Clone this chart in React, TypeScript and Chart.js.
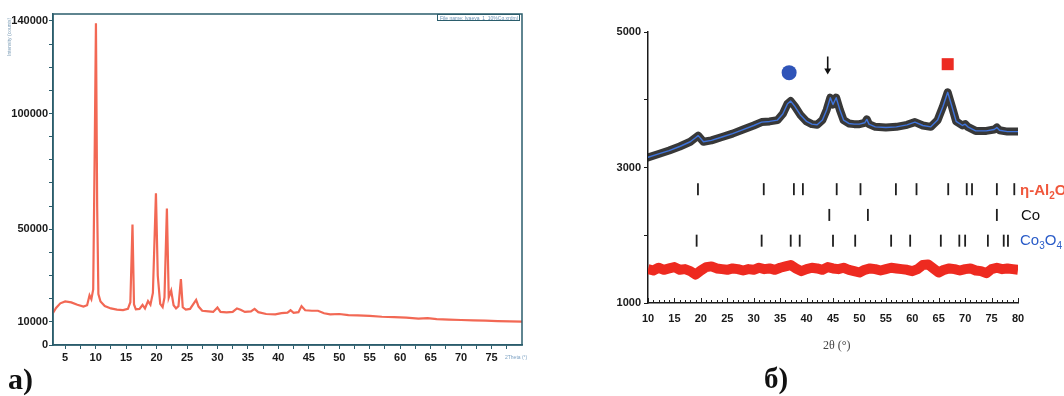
import React, { useEffect, useRef } from "react";
import { Chart, registerables } from "chart.js";
Chart.register(...registerables);

// ---------------- Panel а): XRD pattern of the support ----------------
const aTwoTheta = [
  3.0, 3.5, 4.2, 5.0, 6.0, 7.0, 8.0, 8.6, 9.0, 9.3, 9.6, 9.85, 10.05, 10.25, 10.45, 10.8,
  11.5, 12.5, 13.5, 14.5, 15.3, 15.7, 16.05, 16.3, 16.6, 17.2, 17.7, 18.1, 18.6, 19.0,
  19.4, 19.9, 20.2, 20.6, 21.0, 21.3, 21.7, 22.0, 22.4, 22.8, 23.2, 23.6, 24.0, 24.3,
  24.8, 25.5, 26.5, 26.9, 27.5, 28.5, 29.3, 30.0, 30.5, 31.5, 32.5, 33.2, 33.8, 34.5,
  35.5, 36.1, 36.7, 38.0, 39.5, 40.5, 41.5, 42.0, 42.5, 43.3, 43.8, 44.4, 45.5, 46.5,
  47.5, 48.5, 50.0, 51.5, 53.0, 55.0, 57.0, 59.0, 61.0, 63.0, 64.5, 66.0, 68.0, 70.0,
  72.0, 74.0, 76.0, 78.0, 80.0,
];
const aIntensity = [
  13800, 16000, 18000, 18800, 18400, 17400, 16600, 17200, 21500, 19800, 24000, 85000, 139000, 60000, 22000, 18800,
  16800, 15800, 15300, 15100, 15600, 18500, 52000, 17500, 15400, 15600, 17300, 15800, 19000, 17400,
  22500, 65500, 30000, 17800, 16400, 20500, 59000, 20500, 23500, 17200, 15800, 16800, 28500, 16300,
  15300, 15600, 19500, 16600, 14800, 14500, 14300, 16200, 14300, 14100, 14300, 15800, 15200, 14300,
  14500, 15600, 14200, 13400, 13200, 13800, 14000, 15000, 13900, 14200, 16800, 15000, 14800, 14800,
  13700, 13200, 13400, 12900, 12800, 12600, 12200, 12000, 11800, 11400, 11600, 11200, 11000, 10800,
  10600, 10500, 10300, 10200, 10100,
];
const aYTicks = [0, 10000, 20000, 30000, 40000, 50000, 60000, 70000, 80000, 90000, 100000, 110000, 120000, 130000, 140000];
const aYLabelled = [0, 10000, 50000, 100000, 140000];
const aXTicks = [5, 7.5, 10, 12.5, 15, 17.5, 20, 22.5, 25, 27.5, 30, 32.5, 35, 37.5, 40, 42.5, 45, 47.5, 50, 52.5, 55, 57.5, 60, 62.5, 65, 67.5, 70, 72.5, 75, 77.5];
const aXLabelled = [5, 10, 15, 20, 25, 30, 35, 40, 45, 50, 55, 60, 65, 70, 75];

// ---------------- Panel б): refined pattern of the Co catalyst ----------------
const bFitTwoTheta = [
  10, 12, 14, 16, 18, 19, 19.5, 20.5, 22, 24, 26, 28, 30, 31.5, 33, 34.5, 35.5, 36.4, 37.0,
  37.8, 38.8, 40, 41, 42, 43, 43.8, 44.5, 45.0, 45.6, 46.3, 47, 48, 49, 50, 51, 51.4, 51.8,
  53, 55, 57, 59, 60.5, 62, 63.5, 64.8, 65.8, 66.7, 67.5, 68.3, 69.5, 70.0, 70.5, 72, 74,
  75.5, 76.0, 76.5, 78, 80,
];
const bFitIntensity = [
  3150, 3200, 3250, 3310, 3380, 3440, 3470, 3380, 3400, 3450, 3500, 3560, 3620, 3670, 3680, 3700, 3790, 3940, 3980,
  3900, 3780, 3680, 3640, 3630, 3700, 3850, 4030, 3930, 4030, 3850, 3700, 3650, 3640, 3640, 3660, 3710, 3640,
  3600, 3590, 3600, 3630, 3670, 3620, 3600, 3700, 3900, 4110, 3900, 3680, 3620, 3640, 3600, 3540, 3540,
  3560, 3590, 3550, 3530, 3530,
];
const bDiffTwoTheta = [
  10, 11, 12, 13, 14, 15, 16, 17, 18, 19, 20, 21, 22, 23, 24, 25, 26, 27, 28, 29, 30, 31, 32, 33, 34, 35,
  36, 37, 38, 39, 40, 41, 42, 43, 44, 45, 46, 47, 48, 49, 50, 51, 52, 53, 54, 55, 56, 57, 58, 59, 60,
  61, 62, 63, 64, 65, 66, 67, 68, 69, 70, 71, 72, 73, 74, 75, 76, 77, 78, 79, 80,
];
const bDiffIntensity = [
  1500, 1480, 1520, 1490, 1510, 1530, 1490, 1500, 1470, 1420, 1480, 1530, 1540, 1510, 1500, 1490, 1510, 1500, 1480, 1500, 1490, 1520, 1500, 1510, 1490, 1520,
  1540, 1560, 1510, 1470, 1500, 1520, 1510, 1490, 1530, 1510, 1500, 1520, 1490, 1470, 1450, 1490, 1510, 1500, 1480, 1500, 1520, 1510, 1500, 1490, 1470,
  1500, 1560, 1570, 1510, 1450, 1490, 1510, 1500, 1480, 1500, 1510, 1480, 1470, 1440, 1500, 1520, 1500, 1510, 1500, 1490,
];
const bEtaAl2O3 = [19.45, 31.9, 37.6, 39.3, 45.7, 50.2, 56.9, 60.8, 66.8, 70.3, 71.3, 76.0, 79.3];
const bCo = [44.3, 51.6, 76.0];
const bCo3O4 = [19.2, 31.5, 37.0, 38.7, 45.0, 49.2, 56.0, 59.6, 65.4, 68.9, 70.0, 74.3, 77.3, 78.1];
const bYTicks = [1000, 2000, 3000, 4000, 5000];
const bYLabelled = [1000, 3000, 5000];
const bXMajor = [10, 15, 20, 25, 30, 35, 40, 45, 50, 55, 60, 65, 70, 75, 80];

// levels of annotation rows (data units of panel б)
const ETA_ROW = 2680;
const CO_ROW = 2300;
const CO3O4_ROW = 1920;
const CIRCLE_MARK = { x: 36.7, y: 4400 };
const SQUARE_MARK = { x: 66.7, y: 4525 };
const ARROW_MARK = { x: 44.0, yTop: 4640, yTip: 4390 };

const TEAL = "#2b5d6c";
const SANS = "'Liberation Sans', Arial, sans-serif";

const boxPlugin = {
  id: "boxPlugin",
  afterDraw(chart: any) {
    const { ctx, chartArea } = chart;
    ctx.save();
    ctx.strokeStyle = TEAL;
    ctx.lineWidth = 1.5;
    ctx.strokeRect(chartArea.left, chartArea.top, chartArea.right - chartArea.left, chartArea.bottom - chartArea.top);
    ctx.restore();
  },
};

const minorTickPlugin = {
  id: "minorTickPlugin",
  afterDraw(chart: any) {
    const { ctx, chartArea } = chart;
    const xs = chart.scales.x;
    ctx.save();
    ctx.strokeStyle = "#222";
    ctx.lineWidth = 1;
    for (let v = 10; v <= 80; v += 1) {
      const px = Math.round(xs.getPixelForValue(v)) + 0.5;
      const len = v % 5 === 0 ? 5 : 3;
      ctx.beginPath();
      ctx.moveTo(px, chartArea.bottom);
      ctx.lineTo(px, chartArea.bottom - len);
      ctx.stroke();
    }
    ctx.restore();
  },
};

function PanelA() {
  const ref = useRef<HTMLCanvasElement>(null);
  useEffect(() => {
    const chart = new Chart(ref.current!, {
      type: "scatter",
      data: {
        datasets: [
          {
            data: aTwoTheta.map((x, i) => ({ x, y: aIntensity[i] })),
            showLine: true,
            borderColor: "rgb(242,104,84)",
            borderWidth: 2.2,
            pointRadius: 0,
          },
        ],
      },
      options: {
        animation: false,
        responsive: false,
        layout: { padding: { top: 14, right: 18, left: 0, bottom: 0 } },
        plugins: { legend: { display: false }, tooltip: { enabled: false } },
        scales: {
          x: {
            type: "linear",
            min: 3,
            max: 80,
            afterBuildTicks: (s: any) => {
              s.ticks = aXTicks.map((v) => ({ value: v }));
            },
            afterFit: (s: any) => {
              s.height = 30;
            },
            grid: { drawOnChartArea: false, tickLength: 4, color: TEAL },
            border: { color: TEAL, width: 1.5 },
            ticks: {
              autoSkip: false,
              maxRotation: 0,
              padding: 2,
              color: "#1a1a1a",
              font: { family: SANS, size: 11, weight: "bold" },
              callback: (v: any) => (aXLabelled.includes(Number(v)) ? String(v) : ""),
            },
          },
          y: {
            type: "linear",
            min: 0,
            max: 143000,
            afterBuildTicks: (s: any) => {
              s.ticks = aYTicks.map((v) => ({ value: v }));
            },
            afterFit: (s: any) => {
              s.width = 53;
            },
            grid: { drawOnChartArea: false, tickLength: 4, color: TEAL },
            border: { color: TEAL, width: 1.5 },
            ticks: {
              autoSkip: false,
              padding: 1,
              color: "#1a1a1a",
              font: { family: SANS, size: 11, weight: "bold" },
              callback: (v: any) => (aYLabelled.includes(Number(v)) ? String(v) : ""),
            },
          },
        },
      },
      plugins: [boxPlugin],
    });
    return () => chart.destroy();
  }, []);
  return <canvas ref={ref} width={540} height={375} style={{ position: "absolute", left: 0, top: 0, width: 540, height: 375 }} />;
}

function PanelB() {
  const ref = useRef<HTMLCanvasElement>(null);
  useEffect(() => {
    const fit = bFitTwoTheta.map((x, i) => ({ x, y: bFitIntensity[i] }));
    const bars = (arr: number[], level: number) => arr.map((x) => ({ x, y: level }));
    const barStyle = {
      showLine: false,
      pointStyle: "line" as const,
      rotation: 90,
      pointRadius: 6,
      borderColor: "#1f1f1f",
      borderWidth: 1.8,
    };
    const chart = new Chart(ref.current!, {
      type: "scatter",
      data: {
        datasets: [
          {
            data: fit,
            showLine: true,
            borderColor: "#3f74dc",
            borderWidth: 1.4,
            borderJoinStyle: "round",
            pointRadius: 0,
            order: 1,
          },
          {
            data: fit,
            showLine: true,
            borderColor: "rgba(28,28,28,0.88)",
            borderWidth: 8,
            borderJoinStyle: "round",
            borderCapStyle: "round",
            pointRadius: 0,
            order: 3,
          },
          {
            data: bDiffTwoTheta.map((x, i) => ({ x, y: bDiffIntensity[i] })),
            showLine: true,
            borderColor: "rgb(238,42,32)",
            borderWidth: 10,
            borderJoinStyle: "round",
            pointRadius: 0,
            order: 2,
          },
          { data: bars(bEtaAl2O3, ETA_ROW), ...barStyle, order: 1 },
          { data: bars(bCo, CO_ROW), ...barStyle, order: 1 },
          { data: bars(bCo3O4, CO3O4_ROW), ...barStyle, order: 1 },
          {
            data: [CIRCLE_MARK],
            pointStyle: "circle",
            pointRadius: 7.5,
            backgroundColor: "#2f54b8",
            borderColor: "#2f54b8",
            borderWidth: 0,
            order: 0,
          },
          {
            data: [SQUARE_MARK],
            pointStyle: "rect",
            pointRadius: 8.5,
            backgroundColor: "#ec2b22",
            borderColor: "#ec2b22",
            borderWidth: 0,
            order: 0,
          },
          {
            data: [
              { x: ARROW_MARK.x, y: ARROW_MARK.yTop },
              { x: ARROW_MARK.x, y: ARROW_MARK.yTip + 60 },
            ],
            showLine: true,
            borderColor: "#111",
            borderWidth: 1.6,
            pointRadius: 0,
            order: 0,
          },
          {
            data: [{ x: ARROW_MARK.x, y: ARROW_MARK.yTip + 40 }],
            pointStyle: "triangle",
            rotation: 180,
            pointRadius: 4,
            backgroundColor: "#111",
            borderColor: "#111",
            borderWidth: 0,
            order: 0,
          },
        ],
      },
      options: {
        animation: false,
        responsive: false,
        layout: { padding: { top: 32, right: 46, left: 0, bottom: 0 } },
        plugins: { legend: { display: false }, tooltip: { enabled: false } },
        scales: {
          x: {
            type: "linear",
            min: 10,
            max: 80,
            afterBuildTicks: (s: any) => {
              s.ticks = bXMajor.map((v) => ({ value: v }));
            },
            afterFit: (s: any) => {
              s.height = 93;
            },
            grid: { drawOnChartArea: false, drawTicks: false },
            border: { color: "#1a1a1a", width: 1.5 },
            ticks: {
              autoSkip: false,
              maxRotation: 0,
              padding: 9,
              color: "#1a1a1a",
              font: { family: SANS, size: 11, weight: "bold" },
            },
          },
          y: {
            type: "linear",
            min: 1000,
            max: 5000,
            afterBuildTicks: (s: any) => {
              s.ticks = bYTicks.map((v) => ({ value: v }));
            },
            afterFit: (s: any) => {
              s.width = 58;
            },
            grid: { drawOnChartArea: false, tickLength: 4, color: "#1a1a1a" },
            border: { color: "#1a1a1a", width: 1.5 },
            ticks: {
              autoSkip: false,
              padding: 3,
              color: "#1a1a1a",
              font: { family: SANS, size: 11, weight: "bold" },
              callback: (v: any) => (bYLabelled.includes(Number(v)) ? String(v) : ""),
            },
          },
        },
      },
      plugins: [minorTickPlugin],
    });
    return () => chart.destroy();
  }, []);
  return <canvas ref={ref} width={474} height={396} style={{ position: "absolute", left: 590, top: 0, width: 474, height: 396 }} />;
}

const abs = (s: React.CSSProperties): React.CSSProperties => ({ position: "absolute", whiteSpace: "nowrap", ...s });

export default function App() {
  return (
    <div style={{ position: "fixed", left: 0, top: 0, width: 1064, height: 396, overflow: "hidden", background: "#fff" }}>
      <PanelA />
      <PanelB />
      {/* tiny labels of panel а */}
      <div style={abs({ left: 6, top: 56, transform: "rotate(-90deg)", transformOrigin: "left top", fontFamily: SANS, fontSize: 5, color: "#7f9fb8" })}>
        Intensity (counts)
      </div>
      <div
        style={abs({
          left: 437,
          top: 14,
          width: 83,
          height: 7,
          border: `1px solid ${TEAL}`,
          fontFamily: SANS,
          fontSize: 5,
          lineHeight: "7px",
          color: "#6a92b4",
          paddingLeft: 2,
          boxSizing: "border-box",
          overflow: "hidden",
        })}
      >
        File name: Ivaeva_1_10%Co.xrdml
      </div>
      <div style={abs({ left: 505, top: 354, fontFamily: SANS, fontSize: 5, color: "#7fa3c4" })}>2Theta (°)</div>
      <div style={abs({ left: 8, top: 362, fontFamily: "'Liberation Serif', serif", fontSize: 30, fontWeight: "bold", color: "#111" })}>
        а)
      </div>
      {/* panel б labels */}
      <div style={abs({ left: 823, top: 338, fontFamily: "'Liberation Serif', serif", fontSize: 12, color: "#444" })}>2θ (°)</div>
      <div style={abs({ left: 764, top: 362, fontFamily: "'Liberation Serif', serif", fontSize: 29, fontWeight: "bold", color: "#111" })}>
        б)
      </div>
      <div style={abs({ left: 1020, top: 181, fontFamily: SANS, fontSize: 15, fontWeight: "bold", color: "#f0573c" })}>
        η-Al<sub style={{ fontSize: 10 }}>2</sub>O<sub style={{ fontSize: 10 }}>3</sub>
      </div>
      <div style={abs({ left: 1021, top: 206, fontFamily: SANS, fontSize: 15, color: "#111" })}>Co</div>
      <div style={abs({ left: 1020, top: 231, fontFamily: SANS, fontSize: 15, color: "#2a5cc8" })}>
        Co<sub style={{ fontSize: 10 }}>3</sub>O<sub style={{ fontSize: 10 }}>4</sub>
      </div>
    </div>
  );
}
